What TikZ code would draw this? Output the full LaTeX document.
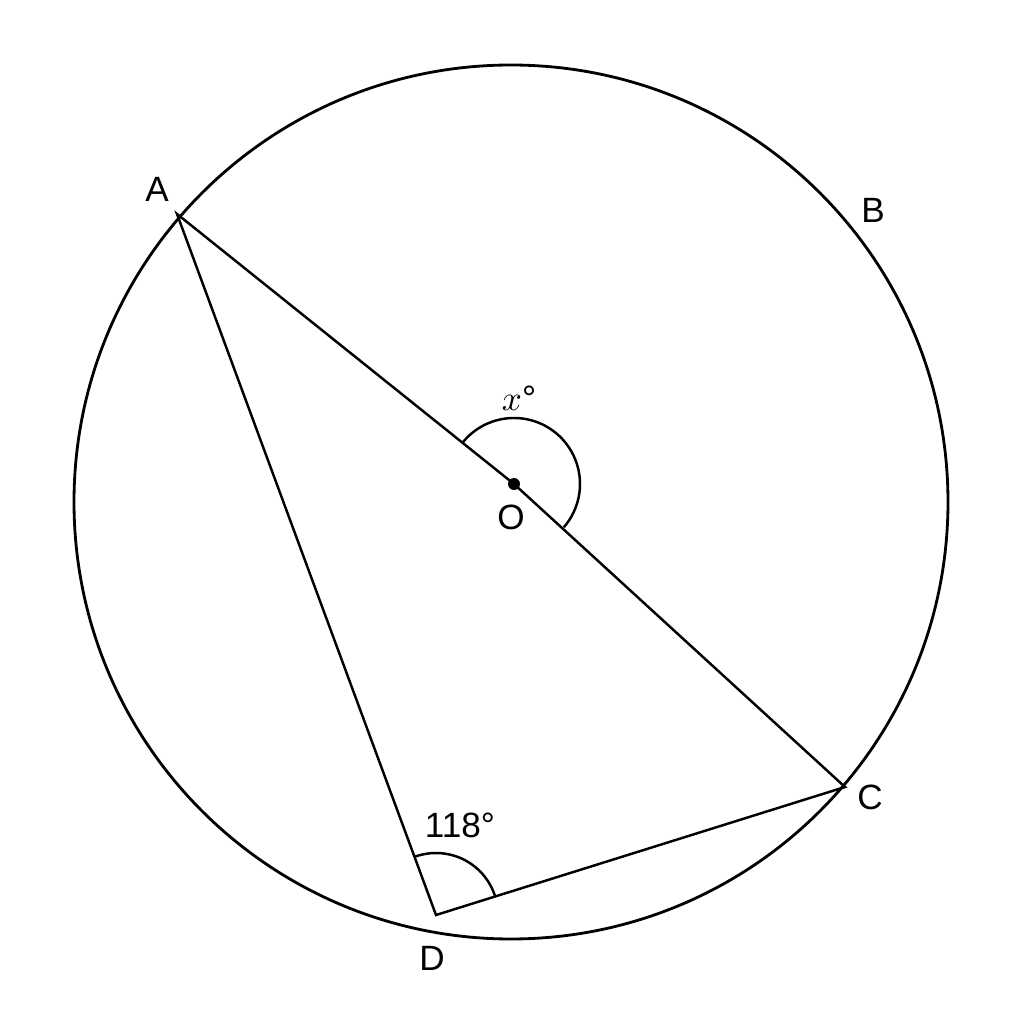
\documentclass[tikz,border=0pt]{standalone}
\usepackage{fontspec}
\setmainfont{Liberation Sans}
\begin{document}
\begin{tikzpicture}[line width=0.7pt, font=\fontsize{10}{12}\selectfont]

\useasboundingbox (0,0) rectangle (10.24,10.24);

\coordinate (vO) at (5.14,5.40);
\coordinate (vA) at (1.77,8.10);
\coordinate (vC) at (8.45,2.37);
\coordinate (vD) at (4.36,1.09);

\draw [line width=0.8pt] (5.11,5.22) circle (4.37);

\draw (vA) -- (vO) -- (vC) -- (vD) -- cycle;

\fill (vO) circle (0.06);

\draw ([shift={(141.3:0.66)}]vO) arc (141.3:-41:0.66);
\draw ([shift={(110.3:0.62)}]vD) arc (110.3:17.4:0.62);

\node (lA) at (1.57,8.35) {A};
\node (lB) at (8.73,8.14) {B};
\node (lC) at (8.70,2.27) {C};
\node (lD) at (4.32,0.66) {D};
\node (lO) at (5.11,5.07) {O};

\node (lx) at (5.19,6.26) {$x$°};
\node (l118) at (4.60,1.99) {118°};

\end{tikzpicture}
\end{document}
